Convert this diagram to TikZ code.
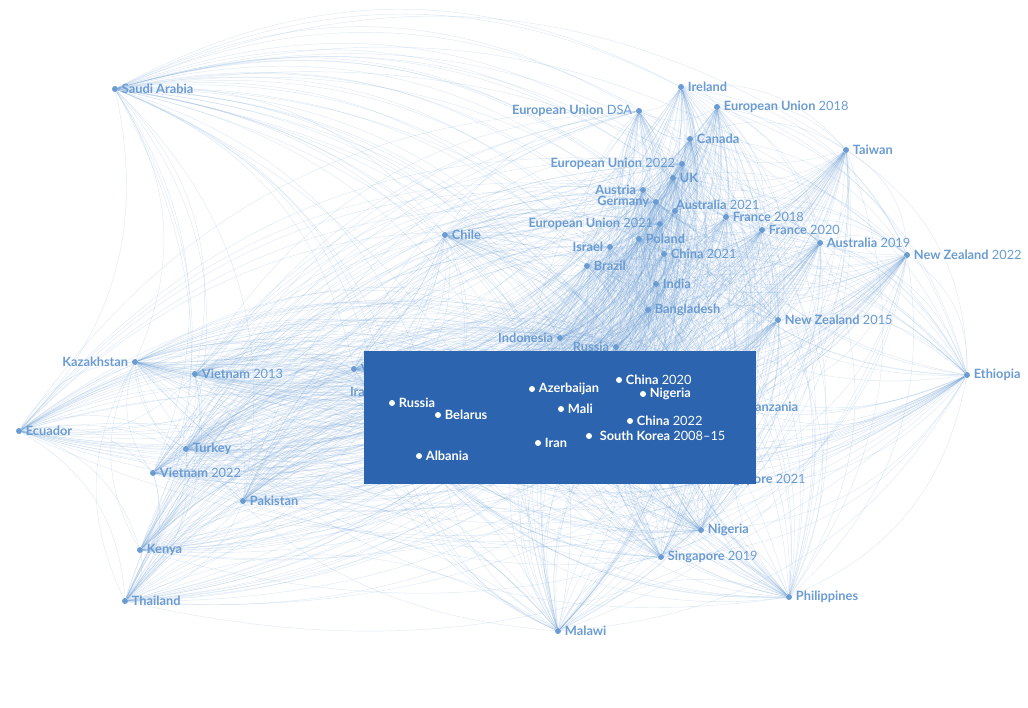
\documentclass[tikz,border=0pt]{standalone}
\usepackage{fontspec}
\setmainfont{Lato}
\usetikzlibrary{backgrounds}
\definecolor{dotblue}{RGB}{106,155,209}
\definecolor{boxblue}{RGB}{44,100,175}

\begin{document}
\begin{tikzpicture}[x=0.75pt, y=-0.75pt,
    dot/.style={circle, fill=dotblue, inner sep=0pt, minimum size=4.5pt},
    wdot/.style={dot, fill=white},
    lbl/.style={font=\fontsize{9.6}{11}\selectfont, text=dotblue, inner sep=1pt},
    wlbl/.style={lbl, text=white},
    label distance=1.5pt,
    link/.style={draw=dotblue, draw opacity=0.21, line width=0.35pt}]
   \useasboundingbox (0,0) rectangle (1028,707);

   % outer countries, label on the right
   \node[dot, label={[lbl]right:{\textbf{Saudi Arabia}}}] (saudi) at (115,89) {};
   \node[dot, label={[lbl]right:{\textbf{Ireland}}}] (ireland) at (681,87) {};
   \node[dot, label={[lbl]right:{\textbf{European Union} 2018}}] (eu18) at (717,107) {};
   \node[dot, label={[lbl]right:{\textbf{Canada}}}] (canada) at (690,139) {};
   \node[dot, label={[lbl]right:{\textbf{Taiwan}}}] (taiwan) at (846,150) {};
   \node[dot, label={[lbl]right:{\textbf{UK}}}] (uk) at (673,178) {};
   \node[dot, label={[lbl, label distance=-3pt]above right:{\textbf{Australia} 2021}}] (aus21) at (675,211) {};
   \node[dot, label={[lbl]right:{\textbf{France} 2018}}] (fra18) at (726,217) {};
   \node[dot, label={[lbl]right:{\textbf{France} 2020}}] (fra20) at (762,230) {};
   \node[dot, label={[lbl]right:{\textbf{Australia} 2019}}] (aus19) at (820,243) {};
   \node[dot, label={[lbl]right:{\textbf{New Zealand} 2022}}] (nz22) at (907,255) {};
   \node[dot, label={[lbl]right:{\textbf{Chile}}}] (chile) at (445,235) {};
   \node[dot, label={[lbl]right:{\textbf{Poland}}}] (poland) at (639,239) {};
   \node[dot, label={[lbl]right:{\textbf{China} 2021}}] (chn21) at (664,254) {};
   \node[dot, label={[lbl]right:{\textbf{Brazil}}}] (brazil) at (587,266) {};
   \node[dot, label={[lbl]right:{\textbf{India}}}] (india) at (656,284) {};
   \node[dot, label={[lbl]right:{\textbf{Bangladesh}}}] (bangla) at (648,310) {};
   \node[dot, label={[lbl]right:{\textbf{New Zealand} 2015}}] (nz15) at (778,320) {};
   \node[dot, label={[lbl]right:{\textbf{Ethiopia}}}] (ethiopia) at (967,375) {};
   \node[dot, label={[lbl]right:{\textbf{Vietnam} 2013}}] (viet13) at (195,374) {};
   \node[dot, label={[lbl]right:{\textbf{Ecuador}}}] (ecuador) at (19,431) {};
   \node[dot, label={[lbl]right:{\textbf{Turkey}}}] (turkey) at (186,449) {};
   \node[dot, label={[lbl]right:{\textbf{Vietnam} 2022}}] (viet22) at (153,473) {};
   \node[dot, label={[lbl]right:{\textbf{Pakistan}}}] (pakistan) at (243,501) {};
   \node[dot, label={[lbl]right:{\textbf{Kenya}}}] (kenya) at (140,550) {};
   \node[dot, label={[lbl]right:{\textbf{Thailand}}}] (thailand) at (125,601) {};
   \node[dot, label={[lbl]right:{\textbf{Malawi}}}] (malawi) at (558,631) {};
   \node[dot, label={[lbl]right:{\textbf{Nigeria}}}] (nigeria) at (701,530) {};
   \node[dot, label={[lbl]right:{\textbf{Singapore} 2019}}] (sing19) at (661,557) {};
   \node[dot, label={[lbl]right:{\textbf{Philippines}}}] (phil) at (789,597) {};
   \node[dot, label={[lbl]right:{\textbf{Venezuela}}}] (venez) at (354,369) {};
   \node[dot, label={[lbl]right:{\textbf{Tanzania}}}] (tanz) at (742,407) {};
   \node[dot, label={[lbl]right:{\textbf{Singapore} 2021}}] (sing21) at (709,480) {};
   \node[dot, label={[lbl]right:{\textbf{United States}}}] (usa) at (672,357) {};

   % outer countries, label on the left
   \node[dot, label={[lbl]left:{\textbf{European Union} DSA}}] (eudsa) at (639,111) {};
   \node[dot, label={[lbl]left:{\textbf{European Union} 2022}}] (eu22) at (682,164) {};
   \node[dot, label={[lbl]left:{\textbf{Austria}}}] (austria) at (643,190) {};
   \node[dot, label={[lbl]left:{\textbf{Germany}}}] (germany) at (656,202) {};
   \node[dot, label={[lbl]left:{\textbf{European Union} 2021}}] (eu21) at (660,224) {};
   \node[dot, label={[lbl]left:{\textbf{Israel}}}] (israel) at (610,247) {};
   \node[dot, label={[lbl]left:{\textbf{Kazakhstan}}}] (kazakh) at (135,362) {};
   \node[dot, label={[lbl]left:{\textbf{Indonesia}}}] (indonesia) at (560,338) {};
   \node[dot, label={[lbl]left:{\textbf{Russia}}}] (russia) at (616,347) {};
   \node[dot, label={[lbl]left:{\textbf{Iran}}}] (iranx) at (379,392) {};

   % highlighted group
   \fill[boxblue] (364,351) rectangle (756,484);
   \node[wdot, label={[wlbl]right:{\textbf{Russia}}}] (rus) at (392,403) {};
   \node[wdot, label={[wlbl]right:{\textbf{Belarus}}}] (belarus) at (438,415) {};
   \node[wdot, label={[wlbl]right:{\textbf{Albania}}}] (albania) at (419,456) {};
   \node[wdot, label={[wlbl]right:{\textbf{Azerbaijan}}}] (azer) at (532,389) {};
   \node[wdot, label={[wlbl]right:{\textbf{Mali}}}] (mali) at (561,409) {};
   \node[wdot, label={[wlbl]right:{\textbf{Iran}}}] (iran) at (538,443) {};
   \node[wdot, label={[wlbl]right:{\textbf{China} 2020}}] (chn20) at (619,380) {};
   \node[wdot, label={[wlbl]right:{\textbf{Nigeria}}}] (nga) at (643,394) {};
   \node[wdot, label={[wlbl]right:{\textbf{China} 2022}}] (chn22) at (630,421) {};
   \node[wdot, label={[wlbl, label distance=4.5pt]right:{\textbf{South Korea} 2008--15}}] (korea) at (589,436) {};

   % every law links to every other
   \def\members{saudi,ireland,eu18,canada,taiwan,uk,aus21,fra18,fra20,aus19,nz22,chile,poland,chn21,brazil,india,bangla,nz15,ethiopia,viet13,ecuador,turkey,viet22,pakistan,kenya,thailand,malawi,nigeria,sing19,phil,venez,tanz,sing21,usa,eudsa,eu22,austria,germany,eu21,israel,kazakh,indonesia,russia,iranx,rus,belarus,albania,azer,mali,iran,chn20,nga,chn22,korea}
   \begin{scope}[on background layer]
   \foreach \a [count=\i] in \members {
     \foreach \b [count=\j] in \members {
       \ifnum\j>\i \draw[link] (\a) to[bend left=28] (\b); \fi
     }
   }
   \end{scope}
\end{tikzpicture}
\end{document}
